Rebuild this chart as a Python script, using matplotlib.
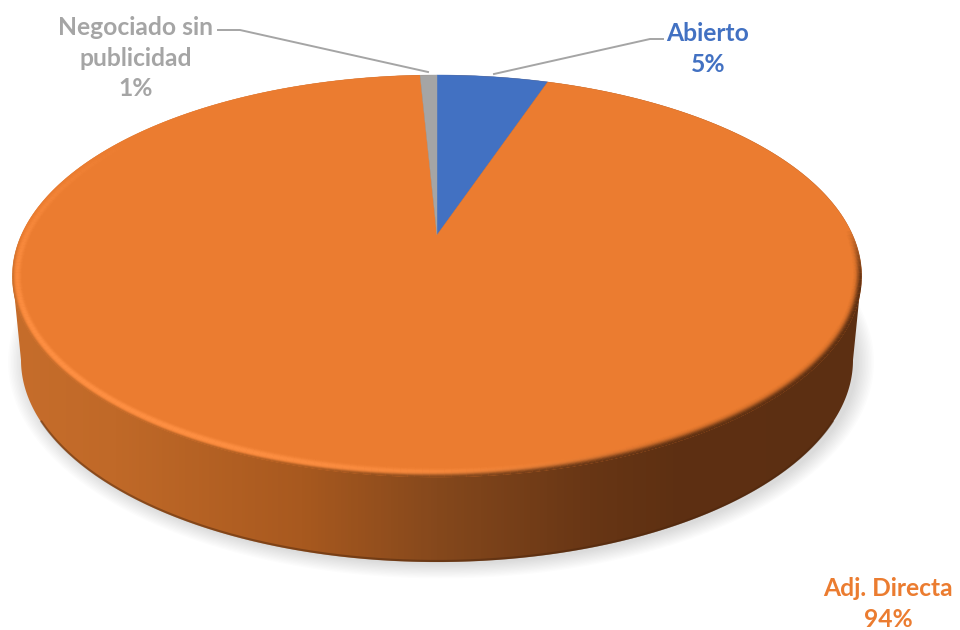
# -*- coding: utf-8 -*-
import numpy as np, matplotlib
matplotlib.use('Agg')
import matplotlib.pyplot as plt
from matplotlib.collections import LineCollection
from matplotlib.colors import LinearSegmentedColormap, to_rgb
from matplotlib.patches import Polygon

# data (the labels are the rounded shares)
names = ['Abierto', 'Adj. Directa', 'Negociado sin\npublicidad']
values = [5.15, 94.07, 0.78]
colors = ['#4271C2', '#EB7C30', '#A5A5A5']
label_xy = [(708, 49), (888, 604), (136, 58)]

# geometry of the disc, in pixels of the picture
cx, cy = 437, 276     # centre of the top ellipse
a, b = 424.5, 201     # its half axes
apex_y = 235          # where the slices meet
low_y, low_a, low_b = 360, 416, 202   # lower rim
persp = (2 * apex_y - (cy - b) - (cy + b)) / (-2.0 * b)
span = (cy - b) * (1 + persp) - apex_y
d = a * np.sqrt(1 - persp ** 2)

def project(theta):
    # point of the rim at angle theta, clockwise from the top
    u, v = np.sin(theta), np.cos(theta)
    w = 1 + persp * v
    return cx + d * u / w, (apex_y + span * v) / w

plt.rcParams['font.family'] = ['Lato', 'DejaVu Sans']
fig = plt.figure(figsize=(9.6, 6.3), dpi=100)
ax = fig.add_axes([0, 0, 1, 1])
ax.set_xlim(0, 960)
ax.set_ylim(630, 0)
ax.axis('off')

# soft shadow under the disc
t = np.linspace(0, 2 * np.pi, 400)
for grow in np.arange(17, 0, -1.5):
    ax.fill(cx + 4 + (low_a + grow) * np.cos(t), low_y + 2 + (low_b + grow * 0.85) * np.sin(t),
            color='black', alpha=0.012, lw=0, zorder=1)

# side wall with the gradient running from left to right
stops = [(0.0, '#C66D2B'), (0.12, '#C06928'), (0.34, '#A8591F'), (0.5, '#85481C'),
         (0.68, '#683615'), (0.78, '#5E3012'), (1.0, '#5C2F12')]
side_cmap = LinearSegmentedColormap.from_list('side', stops)
tl = np.linspace(0, np.pi, 300)
tu = np.linspace(np.pi, 2 * np.pi, 300)
wall = np.vstack([
    np.column_stack([cx + low_a * np.cos(tl), low_y + low_b * np.sin(tl)]),
    np.column_stack([cx + a * np.cos(tu), cy + b * np.sin(tu)]),
])
clip = Polygon(wall, closed=True, transform=ax.transData, fc='none', ec='none')
ax.add_patch(clip)
im = ax.imshow(np.linspace(0, 1, 256)[None, :], cmap=side_cmap, aspect='auto',
               extent=[cx - a, cx + a, 630, 0], zorder=2)
im.set_clip_path(clip)
ax.set_xlim(0, 960)
ax.set_ylim(630, 0)

# thin dark line along the foot of the wall
ax.plot(cx + low_a * np.cos(tl[30:270]), low_y + low_b * np.sin(tl[30:270]) - 1,
        color='#4A250C', alpha=0.45, lw=1.6, zorder=3)

# top of the disc, one polygon per slice, clockwise from the top
start = 0.0
for val, col in zip(values, colors):
    stop = start + val / sum(values) * 2 * np.pi
    th = np.linspace(start, stop, max(int(val * 8), 6))
    xs, ys = project(th)
    ax.fill(np.r_[cx, xs], np.r_[apex_y, ys], color=col, lw=0.3, zorder=4)
    start = stop

# bevel: light band on the lower left, dark edge on the lower right
tt = np.linspace(0, 2 * np.pi, 361)
segs, seg_cols = [], []
for k in np.arange(0.25, 12, 0.75):
    xs = cx + (a - k) * np.cos(tt)
    ys = cy + (b - k) * np.sin(tt)
    for i in range(len(tt) - 1):
        mid = 0.5 * (tt[i] + tt[i + 1])
        s = np.sin(mid)
        col = np.array(to_rgb('#EB7C30'))
        alpha = 0.0
        # highlight
        hi = max(0.0, np.cos(mid - np.radians(140))) ** 1.5 * np.exp(-((k - 5.0) / 2.8) ** 2)
        if hi > 0.01:
            col = np.array(to_rgb('#FF9043'))
            alpha = min(1.0, hi)
        # outer edge takes the colour of the wall
        low = np.clip(s * 3.5 + 0.8, 0, 1)
        width = 1.6 + 2.8 * max(0.0, np.cos(mid - np.radians(30)))
        lo = low * np.exp(-(k / width) ** 2)
        if lo > 0.01:
            wall_col = np.array(side_cmap((xs[i] - (cx - a)) / (2 * a))[:3])
            col = (col * alpha + wall_col * lo * (1 - alpha * 0.3)) / (alpha + lo * (1 - alpha * 0.3))
            alpha = min(1.0, alpha + lo)
        if alpha > 0.01:
            segs.append([(xs[i], ys[i]), (xs[i + 1], ys[i + 1])])
            seg_cols.append((*col, alpha))
ax.add_collection(LineCollection(segs, colors=seg_cols, linewidths=0.9, zorder=5))

# leader lines
ax.plot([218, 240, 428], [30, 30, 72], color='#A5A5A5', lw=1.4, zorder=6)
ax.plot([494, 650, 663], [74, 39, 39], color='#A5A5A5', lw=1.4, zorder=6)

# labels
for name, val, col, (lx, ly) in zip(names, values, colors, label_xy):
    pct = round(val / sum(values) * 100)
    ax.text(lx, ly, f'{name}\n{pct}%', color=col, fontsize=17.7, fontweight='bold',
            ha='center', va='center', linespacing=1.42, zorder=7)

fig.savefig('out.png', dpi=100)
